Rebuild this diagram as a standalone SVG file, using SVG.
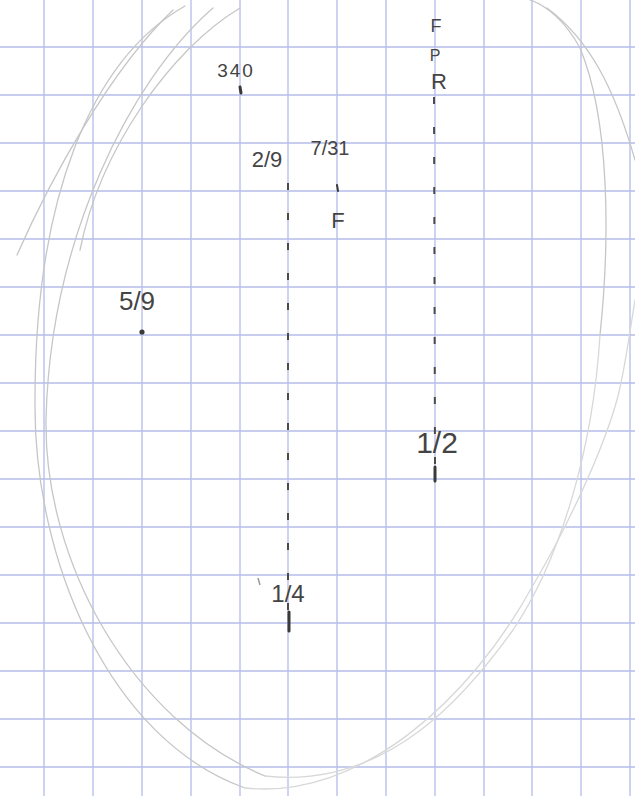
<svg xmlns="http://www.w3.org/2000/svg" width="635" height="796" viewBox="0 0 635 796">
<style>
.grid line{stroke:#b4bcea;stroke-width:1.3}
.pencil{fill:none;stroke:#c6c6c6;stroke-width:1.3;stroke-linecap:round}
.faint{stroke:#d8d8d8}
.lbl{font-family:"Liberation Sans",Arial,sans-serif;fill:#444444;text-anchor:middle}
.dash{stroke:#4a4a4a;stroke-width:2;stroke-dasharray:7 23;fill:none}
.tick{stroke:#3a3a3a;stroke-width:3;stroke-linecap:round}
</style>
<rect width="635" height="796" fill="#ffffff"/>
<g class="grid">
<line x1="44" y1="0" x2="44" y2="796"/><line x1="93" y1="0" x2="93" y2="796"/><line x1="142" y1="0" x2="142" y2="796"/><line x1="191" y1="0" x2="191" y2="796"/><line x1="240" y1="0" x2="240" y2="796"/><line x1="288" y1="0" x2="288" y2="796"/><line x1="337" y1="0" x2="337" y2="796"/><line x1="386" y1="0" x2="386" y2="796"/><line x1="435" y1="0" x2="435" y2="796"/><line x1="484" y1="0" x2="484" y2="796"/><line x1="532" y1="0" x2="532" y2="796"/><line x1="581" y1="0" x2="581" y2="796"/><line x1="630" y1="0" x2="630" y2="796"/>
<line x1="0" y1="47" x2="635" y2="47"/><line x1="0" y1="95" x2="635" y2="95"/><line x1="0" y1="143" x2="635" y2="143"/><line x1="0" y1="191" x2="635" y2="191"/><line x1="0" y1="239" x2="635" y2="239"/><line x1="0" y1="287" x2="635" y2="287"/><line x1="0" y1="335" x2="635" y2="335"/><line x1="0" y1="383" x2="635" y2="383"/><line x1="0" y1="431" x2="635" y2="431"/><line x1="0" y1="479" x2="635" y2="479"/><line x1="0" y1="527" x2="635" y2="527"/><line x1="0" y1="575" x2="635" y2="575"/><line x1="0" y1="623" x2="635" y2="623"/><line x1="0" y1="671" x2="635" y2="671"/><line x1="0" y1="719" x2="635" y2="719"/><line x1="0" y1="767" x2="635" y2="767"/>
</g>
<g id="outline">
<path class="pencil" d="M17,255 C50,180 110,70 173,10"/>
<path class="pencil" d="M185,6 C90,60 35,200 35,400 C33,560 110,740 245,788"/>
<path class="pencil faint" d="M245,788 C360,800 470,700 532,587 C560,540 600,460 617,400 C625,370 630,330 635,300"/>
<path class="pencil" d="M213,8 C130,80 50,240 46,420 C44,560 130,720 265,776"/>
<path class="pencil faint" d="M265,776 C390,790 470,690 513,630 C560,560 593,450 600,335"/>
<path class="pencil" d="M600,335 C610,240 610,120 580,48 C565,20 545,5 530,0"/>
<path class="pencil" d="M240,8 C170,50 100,150 80,250"/>
<path class="pencil" d="M547,8 C590,40 615,90 635,160"/>
</g>
<g id="connectors">
<path class="dash" d="M288,183 L288,612"/>
<path class="dash" d="M434,97 L435,465"/>
</g>
<g id="n340">
<text class="lbl" x="236" y="77" font-size="19" letter-spacing="2">340</text>
<line class="tick" x1="240" y1="87" x2="241" y2="93"/>
</g>
<g id="n2-9">
<text class="lbl" x="267" y="167" font-size="22">2/9</text>
</g>
<g id="n7-31">
<text class="lbl" x="330" y="155" font-size="20">7/31</text>
<line class="tick" x1="337" y1="185" x2="338" y2="191" style="stroke-width:2"/>
<text class="lbl" x="338" y="228" font-size="22">F</text>
</g>
<g id="nFPR">
<text class="lbl" x="436" y="32" font-size="18">F</text>
<text class="lbl" x="435" y="61" font-size="16">P</text>
<text class="lbl" x="439" y="89" font-size="22">R</text>
</g>
<g id="n5-9">
<text class="lbl" x="137" y="310" font-size="26">5/9</text>
<circle cx="142" cy="332" r="2.6" fill="#3a3a3a"/>
</g>
<g id="n1-2">
<text class="lbl" x="437" y="453" font-size="30">1/2</text>
<line class="tick" x1="435" y1="467" x2="435" y2="481"/>
</g>
<g id="n1-4">
<text class="lbl" x="288" y="602" font-size="24">1/4</text>
<line class="tick" x1="289" y1="612" x2="289" y2="631"/>
<line x1="258" y1="578" x2="260" y2="585" stroke="#9a9a9a" stroke-width="1.5"/>
</g>
</svg>
